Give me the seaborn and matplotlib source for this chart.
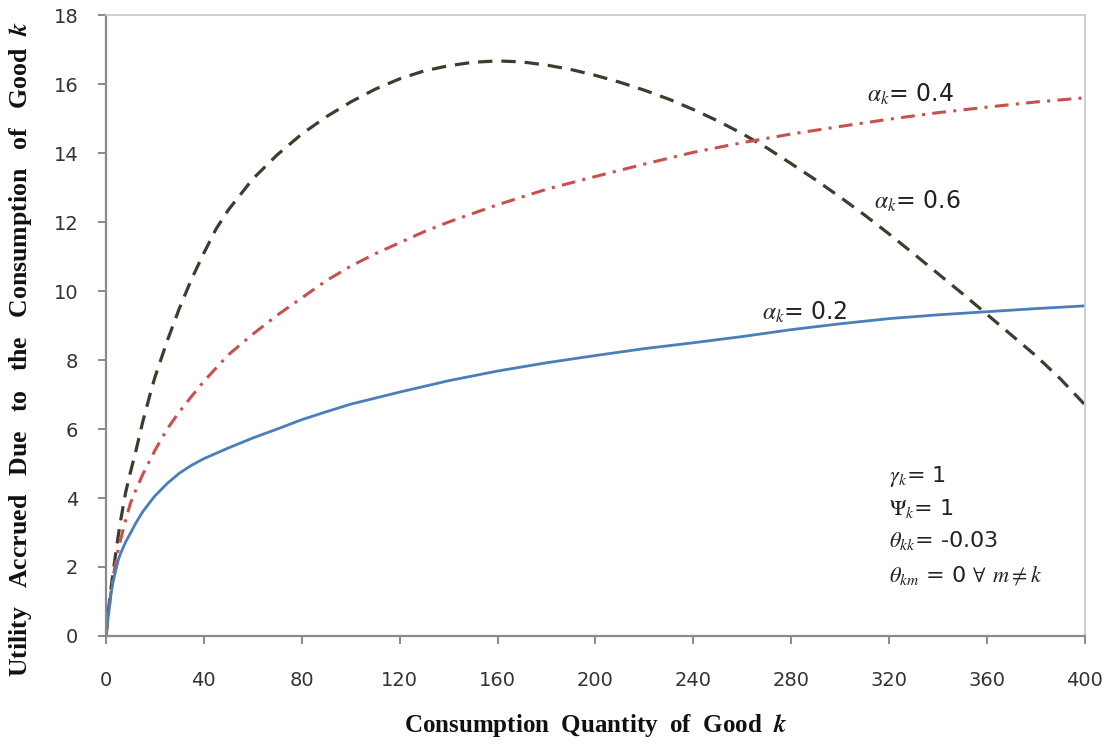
import numpy as np
import pandas as pd
import matplotlib
matplotlib.use("Agg")
import matplotlib.pyplot as plt
import seaborn as sns

# ---- data ----
q_blue = [0, 1, 2, 3, 4, 5, 6, 8, 10, 12, 15, 18, 20, 25, 30, 35, 40, 50, 60, 70, 80, 90,
          100, 120, 140, 160, 180, 200, 220, 240, 260, 280, 300, 320, 340, 360, 380, 400]
utility_a02 = [0, 0.6, 1.2, 1.6, 1.9, 2.2, 2.4, 2.72, 2.98, 3.25, 3.6, 3.88, 4.06, 4.42, 4.72,
               4.95, 5.14, 5.45, 5.74, 6.0, 6.27, 6.5, 6.72, 7.07, 7.4, 7.68, 7.92, 8.13,
               8.33, 8.5, 8.68, 8.88, 9.05, 9.2, 9.31, 9.4, 9.49, 9.57]

q_red = [0, 1, 2, 3, 4, 5, 6, 8, 10, 12, 15, 18, 20, 25, 30, 35, 40, 45, 50, 60, 70, 80, 90,
         100, 110, 120, 130, 140, 160, 180, 200, 220, 240, 260, 280, 300, 320, 340, 360,
         380, 400]
utility_a04 = [0, 0.6, 1.25, 1.75, 2.15, 2.5, 2.8, 3.35, 3.85, 4.2, 4.68, 5.1, 5.38, 6.0, 6.5,
               6.95, 7.38, 7.77, 8.15, 8.75, 9.3, 9.8, 10.3, 10.72, 11.08, 11.4, 11.72, 12.0,
               12.5, 12.95, 13.32, 13.68, 14.02, 14.3, 14.55, 14.77, 14.98, 15.17, 15.33,
               15.48, 15.6]

q_black = [0, 1, 2, 3, 4, 5, 6, 8, 10, 12, 15, 18, 20, 25, 30, 35, 40, 45, 50, 60, 70, 80,
           90, 100, 110, 120, 130, 140, 150, 160, 170, 180, 190, 200, 210, 220, 230, 240,
           250, 260, 270, 280, 290, 300, 310, 320, 330, 340, 350, 360, 370, 380, 390, 400]
utility_a06 = [0, 0.75, 1.35, 1.9, 2.4, 2.9, 3.35, 4.15, 4.75, 5.3, 6.2, 7.0, 7.5, 8.55, 9.5,
               10.35, 11.1, 11.8, 12.35, 13.25, 13.95, 14.55, 15.05, 15.48, 15.85, 16.15,
               16.38, 16.53, 16.63, 16.67, 16.64, 16.55, 16.42, 16.25, 16.05, 15.82, 15.56,
               15.26, 14.93, 14.56, 14.15, 13.69, 13.22, 12.72, 12.2, 11.65, 11.08, 10.5,
               9.92, 9.32, 8.72, 8.12, 7.45, 6.7]

x_ticks = [0, 40, 80, 120, 160, 200, 240, 280, 320, 360, 400]
y_ticks = [0, 2, 4, 6, 8, 10, 12, 14, 16, 18]

df_b = pd.DataFrame({"q": q_blue, "u": utility_a02})
df_r = pd.DataFrame({"q": q_red, "u": utility_a04})
df_k = pd.DataFrame({"q": q_black, "u": utility_a06})

sns.set_theme(style="white")
plt.rcParams["font.family"] = ["DejaVu Sans"]
plt.rcParams["mathtext.fontset"] = "stix"

fig = plt.figure(figsize=(11.12, 7.47), dpi=100)
ax = fig.add_axes([0.0953, 0.1486, 0.8804, 0.8313])

sns.lineplot(data=df_k, x="q", y="u", ax=ax, color="#3b3e2c", linewidth=2.3,
             linestyle=(0, (4.5, 2.8)))
sns.lineplot(data=df_r, x="q", y="u", ax=ax, color="#c8504d", linewidth=2.2,
             linestyle=(0, (4.5, 2.4, 1.0, 2.4)))
sns.lineplot(data=df_b, x="q", y="u", ax=ax, color="#4a7ebb", linewidth=2.0)

ax.set_xlim(0, 400)
ax.set_ylim(0, 18)
ax.set_xticks(x_ticks)
ax.set_yticks(y_ticks)
ax.set_xticklabels([str(v) for v in x_ticks])
ax.set_yticklabels([str(v) for v in y_ticks])

for s in ["left", "bottom"]:
    ax.spines[s].set_color("#8a8a8a")
    ax.spines[s].set_linewidth(1.6)
for s in ["top", "right"]:
    ax.spines[s].set_color("#c8c8c8")
    ax.spines[s].set_linewidth(1.2)

ax.tick_params(axis="x", direction="out", length=6, width=1.4, color="#8a8a8a",
               pad=19, labelsize=14, labelcolor="#333333", bottom=True)
ax.tick_params(axis="y", direction="out", length=6, width=1.4, color="#8a8a8a",
               pad=14, labelsize=14, labelcolor="#333333", left=True)

ax.set_xlabel("Consumption  Quantity  of  Good  $\\mathbfit{k}$", fontsize=18,
              fontweight="bold", family="Liberation Serif", color="#111111")
ax.set_ylabel("Utility   Accrued   Due   to   the   Consumption   of   Good  $\\mathbfit{k}$",
              fontsize=18.5, fontweight="bold", family="Liberation Serif", color="#111111")
ax.xaxis.set_label_coords(0.5, -0.122)
ax.yaxis.set_label_coords(-0.074, 0.462)

txt_kw = dict(fontsize=17, color="#222222", family="DejaVu Sans")
ax.text(311, 15.48, r"$\alpha_k$= 0.4", **txt_kw)
ax.text(314, 12.4, r"$\alpha_k$= 0.6", **txt_kw)
ax.text(268, 9.16, r"$\alpha_k$= 0.2", **txt_kw)

par_kw = dict(fontsize=16, color="#222222", family="DejaVu Sans")
ax.text(320, 4.46, r"$\gamma_k$= 1", **par_kw)
ax.text(320, 3.5, r"$\Psi_k$= 1", **par_kw)
ax.text(320, 2.58, r"$\theta_{kk}$= -0.03", **par_kw)
ax.text(320, 1.57, r"$\theta_{km}$ = 0 $\forall$ $m\neq k$", **par_kw)

fig.savefig("out.png", dpi=100)
